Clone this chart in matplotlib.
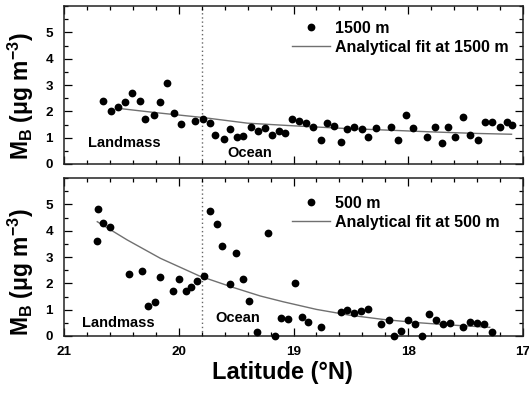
import matplotlib
matplotlib.use("Agg")
import matplotlib.pyplot as plt
from matplotlib.ticker import MultipleLocator, FormatStrFormatter

# ---- data ----
lat_1500 = [20.66, 20.59, 20.53, 20.47, 20.41, 20.34, 20.29, 20.22, 20.16, 20.10,
            20.04, 19.98, 19.86, 19.79, 19.73, 19.68, 19.61, 19.55, 19.49, 19.44,
            19.37, 19.31, 19.25, 19.19, 19.13, 19.07, 19.01, 18.95, 18.89, 18.83,
            18.76, 18.71, 18.65, 18.59, 18.53, 18.47, 18.40, 18.35, 18.28, 18.15,
            18.09, 18.02, 17.96, 17.84, 17.77, 17.71, 17.65, 17.59, 17.52, 17.46,
            17.39, 17.33, 17.27, 17.20, 17.14, 17.10]
mb_1500 = [2.40, 2.03, 2.18, 2.36, 2.71, 2.41, 1.71, 1.86, 2.37, 3.09,
           1.93, 1.52, 1.65, 1.72, 1.57, 1.09, 0.94, 1.32, 1.04, 1.06,
           1.41, 1.24, 1.38, 1.11, 1.27, 1.18, 1.70, 1.65, 1.57, 1.40,
           0.91, 1.55, 1.44, 0.84, 1.32, 1.40, 1.32, 1.01, 1.37, 1.42,
           0.91, 1.86, 1.36, 1.04, 1.40, 0.79, 1.40, 1.01, 1.77, 1.10,
           0.91, 1.61, 1.59, 1.40, 1.60, 1.49]
fit_lat_1500 = [20.5, 20.2, 19.8, 19.4, 19.0, 18.6, 18.2, 17.8, 17.4, 17.1]
fit_mb_1500 = [2.10, 1.95, 1.77, 1.55, 1.45, 1.36, 1.29, 1.22, 1.16, 1.13]

lat_500 = [20.71, 20.70, 20.66, 20.60, 20.43, 20.32, 20.27, 20.21, 20.16, 20.05,
           20.00, 19.94, 19.89, 19.84, 19.78, 19.73, 19.67, 19.62, 19.55, 19.50,
           19.44, 19.39, 19.32, 19.22, 19.16, 19.11, 19.05, 18.99, 18.93, 18.87,
           18.76, 18.59, 18.53, 18.47, 18.41, 18.35, 18.24, 18.17, 18.12, 18.06,
           18.00, 17.94, 17.88, 17.82, 17.76, 17.70, 17.64, 17.52, 17.46, 17.40,
           17.34, 17.27]
mb_500 = [3.62, 4.81, 4.28, 4.15, 2.35, 2.47, 1.14, 1.30, 2.25, 1.70,
          2.17, 1.72, 1.87, 2.10, 2.28, 4.76, 4.24, 3.42, 1.96, 3.14,
          2.15, 1.34, 0.15, 3.91, 0.01, 0.70, 0.66, 2.00, 0.73, 0.54,
          0.34, 0.90, 0.98, 0.86, 0.94, 1.04, 0.46, 0.61, 0.00, 0.20,
          0.61, 0.46, 0.01, 0.84, 0.61, 0.46, 0.48, 0.35, 0.53, 0.48,
          0.46, 0.15]
fit_lat_500 = [20.71, 20.45, 20.16, 19.82, 19.53, 19.29, 19.09, 18.80, 18.51,
               18.22, 17.93, 17.64, 17.29]
fit_mb_500 = [4.34, 3.65, 2.95, 2.28, 1.85, 1.52, 1.30, 1.01, 0.79,
              0.63, 0.51, 0.42, 0.33]

boundary_lat = 19.8
xticks = [21, 20, 19, 18, 17]
yticks = [0, 1, 2, 3, 4, 5]

# ---- style ----
plt.rcParams['font.family'] = ['Liberation Sans', 'DejaVu Sans']
plt.rcParams['font.weight'] = 'bold'
plt.rcParams['mathtext.fontset'] = 'custom'
plt.rcParams['mathtext.rm'] = 'Liberation Sans:bold'
plt.rcParams['mathtext.bf'] = 'Liberation Sans:bold'
plt.rcParams['mathtext.it'] = 'Liberation Sans:bold'
plt.rcParams['mathtext.default'] = 'bf'

W, H = 529, 398
fig = plt.figure(figsize=(W / 100, H / 100), dpi=100)

def px_axes(x0, y0, x1, y1):
    return fig.add_axes([x0 / W, 1 - y1 / H, (x1 - x0) / W, (y1 - y0) / H])

ax1 = px_axes(64, 6, 523, 164)
ax2 = px_axes(64, 178, 523, 336)

panels = [
    (ax1, lat_1500, mb_1500, fit_lat_1500, fit_mb_1500, '1500 m',
     'Analytical fit at 1500 m', (20.79, 0.80), (19.58, 0.42), 0.905, 0.43),
    (ax2, lat_500, mb_500, fit_lat_500, fit_mb_500, '500 m',
     'Analytical fit at 500 m', (20.84, 0.49), (19.68, 0.68), 0.886, 0.405),
]

for (ax, lat, mb, flat, fmb, lab_pts, lab_fit, lm_pos, oc_pos, leg_y, ylab_y) in panels:
    ax.plot(lat, mb, 'o', color='black', ms=5.6, mew=0, clip_on=False, zorder=3,
            label=lab_pts)
    ax.plot(flat, fmb, '-', color='#707070', lw=1.0, zorder=2, label=lab_fit)
    ax.axvline(boundary_lat, color='#666666', lw=1.0, ls=(0, (1, 2)), zorder=1)
    ax.set_xlim(21, 17)
    ax.set_ylim(0, 6)
    ax.set_xticks(xticks)
    ax.set_yticks(yticks)
    ax.xaxis.set_minor_locator(MultipleLocator(0.2))
    ax.yaxis.set_minor_locator(MultipleLocator(0.5))
    ax.xaxis.set_major_formatter(FormatStrFormatter('%d'))
    ax.tick_params(which='both', direction='in', top=True, right=True,
                   width=0.9, colors='black')
    ax.tick_params(which='major', length=5.5)
    ax.tick_params(which='minor', length=3)
    ax.tick_params(axis='y', labelsize=9.7, pad=8)
    ax.tick_params(axis='x', labelsize=9.7, pad=7)
    for s in ax.spines.values():
        s.set_linewidth(1.1)
        s.set_color('#222222')
    ax.text(lm_pos[0], lm_pos[1], 'Landmass', fontsize=10.5, fontweight='bold',
            ha='left', va='center')
    ax.text(oc_pos[0], oc_pos[1], 'Ocean', fontsize=10.5, fontweight='bold',
            ha='left', va='center')
    ax.legend(loc='upper left', bbox_to_anchor=(0.497, leg_y), frameon=False,
              fontsize=11.5, numpoints=1, handlelength=2.35, handletextpad=0.35,
              borderpad=0, borderaxespad=0, labelspacing=0.25,
              prop={'weight': 'bold', 'size': 11.5})
    ax.set_ylabel(r'M$_{\mathbf{B}}$ (μg m$^{\mathbf{-3}}$)', fontsize=16.5,
                  fontweight='bold')
    ax.yaxis.set_label_coords(-0.062, ylab_y)

ax1.tick_params(axis='x', labelbottom=False)
ax2.set_xlabel('Latitude (°N)', fontsize=17, fontweight='bold')
ax2.xaxis.set_label_coords(0.475, -0.16)

fig.savefig('out.png', dpi=100)
